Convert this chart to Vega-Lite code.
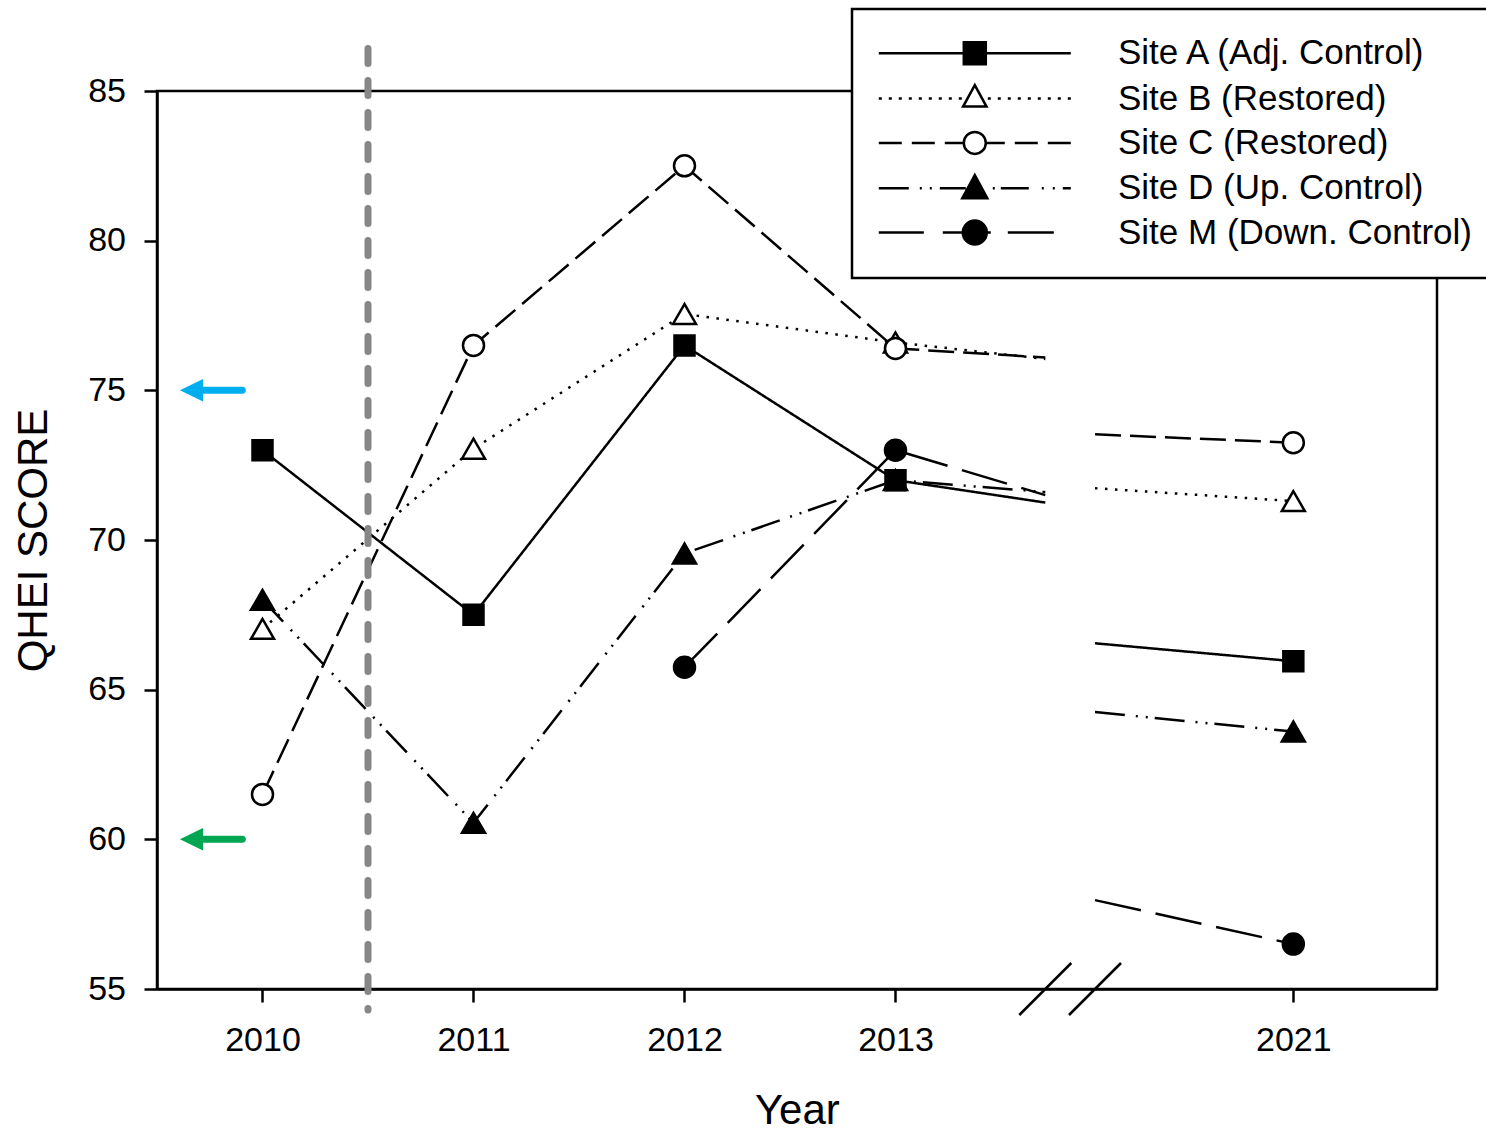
{
  "$schema": "https://vega.github.io/schema/vega-lite/v6.json",
  "width": 1280,
  "height": 898,
  "autosize": "none",
  "padding": {"left": 157, "top": 91, "right": 49, "bottom": 143},
  "background": "white",
  "config": {
    "font": "Liberation Sans",
    "view": {"stroke": "black", "strokeWidth": 2.5},
    "legend": {"strokeWidth": 2.5},
    "axis": {
      "grid": false,
      "domainColor": "black",
      "domainWidth": 2.5,
      "tickColor": "black",
      "tickWidth": 2.5,
      "tickSize": 13,
      "labelFont": "Liberation Sans",
      "labelFontSize": 34,
      "labelColor": "black",
      "labelFlush": false,
      "labelOverlap": false,
      "titleFont": "Liberation Sans",
      "titleFontSize": 42,
      "titleFontWeight": "normal",
      "titleColor": "black"
    }
  },
  "datasets": {
    "scores": [
      {"site": "Site D (Up. Control)", "year": 2010, "qhei": 68, "part": 1, "observed": true},
      {"site": "Site D (Up. Control)", "year": 2011, "qhei": 60.55, "part": 1, "observed": true},
      {"site": "Site D (Up. Control)", "year": 2012, "qhei": 69.55, "part": 1, "observed": true},
      {"site": "Site D (Up. Control)", "year": 2013, "qhei": 72, "part": 1, "observed": true},
      {"site": "Site D (Up. Control)", "year": 2013.71, "qhei": 71.6, "part": 1, "observed": false},
      {"site": "Site D (Up. Control)", "year": 2020.06, "qhei": 64.25, "part": 2, "observed": false},
      {"site": "Site D (Up. Control)", "year": 2021, "qhei": 63.6, "part": 2, "observed": true},
      {"site": "Site A (Adj. Control)", "year": 2010, "qhei": 73, "part": 1, "observed": true},
      {"site": "Site A (Adj. Control)", "year": 2011, "qhei": 67.5, "part": 1, "observed": true},
      {"site": "Site A (Adj. Control)", "year": 2012, "qhei": 76.5, "part": 1, "observed": true},
      {"site": "Site A (Adj. Control)", "year": 2013, "qhei": 72, "part": 1, "observed": true},
      {"site": "Site A (Adj. Control)", "year": 2013.71, "qhei": 71.25, "part": 1, "observed": false},
      {"site": "Site A (Adj. Control)", "year": 2020.06, "qhei": 66.55, "part": 2, "observed": false},
      {"site": "Site A (Adj. Control)", "year": 2021, "qhei": 65.95, "part": 2, "observed": true},
      {"site": "Site M (Down. Control)", "year": 2012, "qhei": 65.75, "part": 1, "observed": true},
      {"site": "Site M (Down. Control)", "year": 2013, "qhei": 73, "part": 1, "observed": true},
      {"site": "Site M (Down. Control)", "year": 2013.71, "qhei": 71.5, "part": 1, "observed": false},
      {"site": "Site M (Down. Control)", "year": 2020.06, "qhei": 57.97, "part": 2, "observed": false},
      {"site": "Site M (Down. Control)", "year": 2021, "qhei": 56.5, "part": 2, "observed": true},
      {"site": "Site B (Restored)", "year": 2010, "qhei": 67.03, "part": 1, "observed": true},
      {"site": "Site B (Restored)", "year": 2011, "qhei": 73.05, "part": 1, "observed": true},
      {"site": "Site B (Restored)", "year": 2012, "qhei": 77.55, "part": 1, "observed": true},
      {"site": "Site B (Restored)", "year": 2013, "qhei": 76.6, "part": 1, "observed": true},
      {"site": "Site B (Restored)", "year": 2013.71, "qhei": 76.05, "part": 1, "observed": false},
      {"site": "Site B (Restored)", "year": 2020.06, "qhei": 71.73, "part": 2, "observed": false},
      {"site": "Site B (Restored)", "year": 2021, "qhei": 71.3, "part": 2, "observed": true},
      {"site": "Site C (Restored)", "year": 2010, "qhei": 61.5, "part": 1, "observed": true},
      {"site": "Site C (Restored)", "year": 2011, "qhei": 76.5, "part": 1, "observed": true},
      {"site": "Site C (Restored)", "year": 2012, "qhei": 82.5, "part": 1, "observed": true},
      {"site": "Site C (Restored)", "year": 2013, "qhei": 76.4, "part": 1, "observed": true},
      {"site": "Site C (Restored)", "year": 2013.71, "qhei": 76.1, "part": 1, "observed": false},
      {"site": "Site C (Restored)", "year": 2020.06, "qhei": 73.53, "part": 2, "observed": false},
      {"site": "Site C (Restored)", "year": 2021, "qhei": 73.25, "part": 2, "observed": true}
    ],
    "cutoffs": [{"level": 75}, {"level": 60}],
    "axisBreaks": [{"edge": 2013.71}, {"edge": 2020.06}],
    "events": [{"event": "restoration", "year": 2010.5}]
  },
  "layer": [
    {
      "data": {"name": "scores"},
      "mark": {"type": "line", "color": "black", "strokeWidth": 2.5},
      "encoding": {
        "x": {
          "field": "year",
          "type": "quantitative",
          "scale": {"domain": [2009.5, 2013.71, 2020.06, 2021.68], "range": [0, 888.3, 938, 1279.8], "nice": false, "zero": false},
          "axis": {"values": [2010, 2011, 2012, 2013, 2021], "format": "d", "title": "Year", "labelPadding": 21, "titleY": 121, "titleBaseline": "middle"}
        },
        "y": {
          "field": "qhei",
          "type": "quantitative",
          "scale": {"domain": [55, 85], "nice": false, "zero": false},
          "axis": {"values": [55, 60, 65, 70, 75, 80, 85], "title": "QHEI SCORE", "labelPadding": 18.5, "titleX": -124, "titleY": 449, "titleAngle": 270, "titleBaseline": "middle", "titleAlign": "center"}
        },
        "strokeDash": {
          "field": "site",
          "type": "nominal",
          "scale": {"range": [[1, 0], [2.5, 7.5], [26, 9], [30, 11, 2, 8, 2, 7], [47, 15]]},
          "legend": null
        },
        "detail": {"field": "part", "type": "nominal"}
      }
    },
    {
      "data": {"name": "scores"},
      "transform": [
        {"filter": "datum.observed"},
        {"filter": {"field": "site", "oneOf": ["Site B (Restored)", "Site D (Up. Control)"]}}
      ],
      "mark": {"type": "point", "shape": "triangle-up", "size": 529, "filled": true, "stroke": "black", "strokeWidth": 2.5, "opacity": 1},
      "encoding": {
        "x": {"field": "year", "type": "quantitative", "scale": {"domain": [2009.5, 2013.71, 2020.06, 2021.68], "range": [0, 888.3, 938, 1279.8], "nice": false, "zero": false}},
        "y": {"field": "qhei", "type": "quantitative", "scale": {"domain": [55, 85], "nice": false, "zero": false}},
        "fill": {
          "field": "site",
          "type": "nominal",
          "scale": {
            "domain": ["Site A (Adj. Control)", "Site B (Restored)", "Site C (Restored)", "Site D (Up. Control)", "Site M (Down. Control)"],
            "range": ["black", "white", "white", "black", "black"]
          }
        }
      }
    },
    {
      "data": {"name": "scores"},
      "transform": [
        {"filter": "datum.observed"},
        {"filter": {"field": "site", "oneOf": ["Site A (Adj. Control)"]}}
      ],
      "mark": {"type": "point", "shape": "square", "size": 400, "filled": true, "stroke": "black", "strokeWidth": 2.5, "opacity": 1},
      "encoding": {
        "x": {"field": "year", "type": "quantitative", "scale": {"domain": [2009.5, 2013.71, 2020.06, 2021.68], "range": [0, 888.3, 938, 1279.8], "nice": false, "zero": false}},
        "y": {"field": "qhei", "type": "quantitative", "scale": {"domain": [55, 85], "nice": false, "zero": false}},
        "fill": {
          "field": "site",
          "type": "nominal",
          "scale": {
            "domain": ["Site A (Adj. Control)", "Site B (Restored)", "Site C (Restored)", "Site D (Up. Control)", "Site M (Down. Control)"],
            "range": ["black", "white", "white", "black", "black"]
          }
        }
      }
    },
    {
      "data": {"name": "scores"},
      "transform": [
        {"filter": "datum.observed"},
        {"filter": {"field": "site", "oneOf": ["Site C (Restored)", "Site M (Down. Control)"]}}
      ],
      "mark": {"type": "point", "shape": "circle", "size": 441, "filled": true, "stroke": "black", "strokeWidth": 2.5, "opacity": 1},
      "encoding": {
        "x": {"field": "year", "type": "quantitative", "scale": {"domain": [2009.5, 2013.71, 2020.06, 2021.68], "range": [0, 888.3, 938, 1279.8], "nice": false, "zero": false}},
        "y": {"field": "qhei", "type": "quantitative", "scale": {"domain": [55, 85], "nice": false, "zero": false}},
        "fill": {
          "field": "site",
          "type": "nominal",
          "scale": {
            "domain": ["Site A (Adj. Control)", "Site B (Restored)", "Site C (Restored)", "Site D (Up. Control)", "Site M (Down. Control)"],
            "range": ["black", "white", "white", "black", "black"]
          }
        }
      }
    },
    {
      "data": {"name": "scores"},
      "transform": [{"filter": "datum.observed"}],
      "mark": {"type": "point", "filled": true, "strokeWidth": 2.5, "opacity": 0},
      "encoding": {
        "x": {"field": "year", "type": "quantitative", "scale": {"domain": [2009.5, 2013.71, 2020.06, 2021.68], "range": [0, 888.3, 938, 1279.8], "nice": false, "zero": false}},
        "y": {"field": "qhei", "type": "quantitative", "scale": {"domain": [55, 85], "nice": false, "zero": false}},
        "shape": {
          "field": "site",
          "type": "nominal",
          "scale": {
            "domain": ["Site A (Adj. Control)", "Site B (Restored)", "Site C (Restored)", "Site D (Up. Control)", "Site M (Down. Control)"],
            "range": [
              "M-9.6,0H-1.1M1.1,0H9.6M-1.1,-1.1H1.1V1.1H-1.1Z",
              "M-9.6,0h0.3M-8.6,0h0.3M-7.6,0h0.3M-6.6,0h0.3M-5.6,0h0.3M-4.6,0h0.3M-3.6,0h0.3M-2.6,0h0.3M-1.6,0h0.3M1.3,0h0.3M2.3,0h0.3M3.3,0h0.3M4.3,0h0.3M5.3,0h0.3M6.3,0h0.3M7.3,0h0.3M8.3,0h0.3M9.3,0h0.3M0,-1.35L1.17,0.8H-1.17Z",
              "M-9.6,0H-7.3M-6.3,0H-4M-3,0H-1.1M1.1,0H3M4,0H6.3M7.3,0H9.6M1.1,0A1.1,1.1,0,1,1,-1.1,0A1.1,1.1,0,1,1,1.1,0Z",
              "M-9.6,0H-6.6M-5.5,0h0.2M-4.5,0h0.2M-3.5,0H-0.9M1.8,0h0.2M2.6,0H5.4M6.7,0h0.2M7.8,0h0.2M8.8,0H9.6M0,-1.3L1.25,1H-1.25Z",
              "M-9.6,0H-5.1M-3.2,0H1.6M3.3,0H7.9M1.2,0A1.2,1.2,0,1,1,-1.2,0A1.2,1.2,0,1,1,1.2,0Z"
            ]
          },
          "legend": {
            "title": null, "orient": "none", "legendX": 695, "legendY": -82, "direction": "vertical",
            "fillColor": "white", "strokeColor": "black", "padding": 26.8,
            "symbolSize": 400, "symbolStrokeWidth": 2.5, "symbolStrokeColor": "black", "symbolOpacity": 1,
            "symbolOffset": 78.5, "labelOffset": 125.7, "rowPadding": 8.3,
            "labelFont": "Liberation Sans", "labelFontSize": 35, "labelColor": "black", "labelLimit": 700
          }
        },
        "fill": {
          "field": "site",
          "type": "nominal",
          "scale": {
            "domain": ["Site A (Adj. Control)", "Site B (Restored)", "Site C (Restored)", "Site D (Up. Control)", "Site M (Down. Control)"],
            "range": ["black", "white", "white", "black", "black"]
          }
        },
        "stroke": {
          "field": "site",
          "type": "nominal",
          "scale": {
            "domain": ["Site A (Adj. Control)", "Site B (Restored)", "Site C (Restored)", "Site D (Up. Control)", "Site M (Down. Control)"],
            "range": ["black", "black", "black", "black", "black"]
          }
        }
      }
    },
    {
      "data": {"name": "events"},
      "mark": {"type": "rule", "color": "#878787", "strokeWidth": 7, "strokeDash": [15, 17], "strokeCap": "round"},
      "encoding": {
        "x": {"field": "year", "type": "quantitative", "scale": {"domain": [2009.5, 2013.71, 2020.06, 2021.68], "range": [0, 888.3, 938, 1279.8], "nice": false, "zero": false}},
        "y": {"datum": 86.42, "type": "quantitative", "scale": {"domain": [55, 85], "nice": false, "zero": false}},
        "y2": {"datum": 54.3}
      }
    },
    {
      "data": {"name": "axisBreaks"},
      "mark": {"type": "point", "shape": "M-1,1L1,-1", "size": 2704, "filled": false, "stroke": "black", "strokeWidth": 2.5, "opacity": 1},
      "encoding": {
        "x": {"field": "edge", "type": "quantitative", "scale": {"domain": [2009.5, 2013.71, 2020.06, 2021.68], "range": [0, 888.3, 938, 1279.8], "nice": false, "zero": false}},
        "y": {"datum": 55, "type": "quantitative", "scale": {"domain": [55, 85], "nice": false, "zero": false}}
      }
    },
    {
      "data": {"name": "cutoffs"},
      "mark": {"type": "point", "shape": "M-1,0L-0.3,-0.34L-0.3,-0.106L0.894,-0.106A0.106,0.106,0,0,1,0.894,0.106L-0.3,0.106L-0.3,0.34Z", "size": 4356, "filled": true, "opacity": 1, "strokeWidth": 0},
      "encoding": {
        "x": {"datum": 2009.765, "type": "quantitative", "scale": {"domain": [2009.5, 2013.71, 2020.06, 2021.68], "range": [0, 888.3, 938, 1279.8], "nice": false, "zero": false}},
        "y": {"field": "level", "type": "quantitative", "scale": {"domain": [55, 85], "nice": false, "zero": false}},
        "color": {"field": "level", "type": "nominal", "scale": {"domain": [75, 60], "range": ["#00AEEF", "#00A651"]}, "legend": null}
      }
    }
  ]
}
